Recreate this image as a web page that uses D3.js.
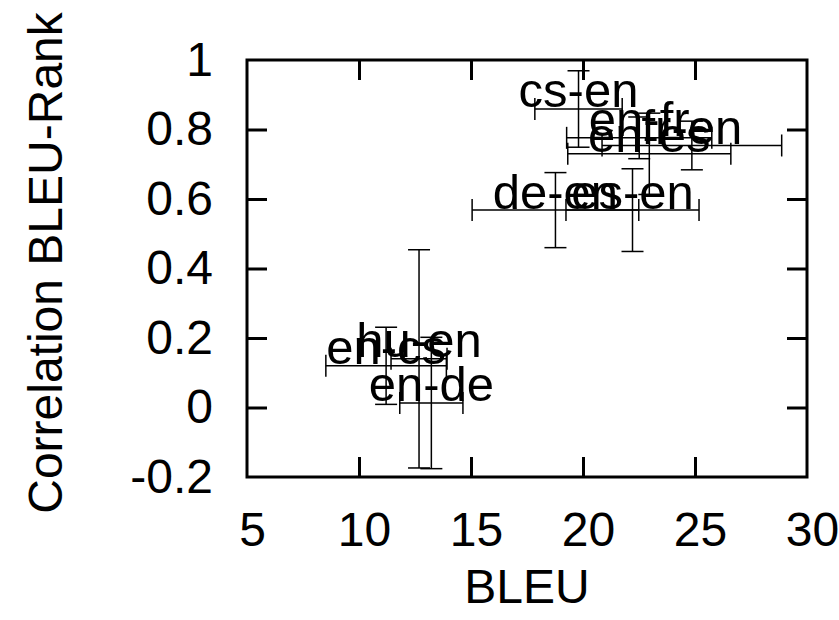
<!DOCTYPE html>
<html>
<head>
<meta charset="utf-8">
<script src="https://cdn.jsdelivr.net/npm/d3@7"></script>
<style>
  body { margin: 0; background: #fff; }
  svg { display: block; font-family: "Liberation Sans", Arial, sans-serif; }
</style>
</head>
<body>
<svg id="chart" width="839" height="620"></svg>
<script>
// language pairs and their values
var langPairs = ['cs-en', 'en-fr', 'fr-en', 'en-es', 'de-en', 'es-en', 'hu-en', 'en-cs', 'en-de'];
var bleu      = [19.8, 22.51, 24.86, 22.96, 18.77, 22.21, 12.68, 11.21, 13.23];
var bleuErr   = [1.95, 3.24, 4.01, 3.64, 3.72, 2.97, 1.25, 2.69, 1.41];
var corr      = [0.859, 0.776, 0.754, 0.730, 0.568, 0.568, 0.14, 0.12, 0.013];
var corrErr   = [0.11, 0.06, 0.07, 0.117, 0.108, 0.119, 0.314, 0.111, 0.189];

var xTicks = [5, 10, 15, 20, 25, 30];
var yTicks = [-0.2, 0, 0.2, 0.4, 0.6, 0.8, 1];

// plot box (window.top is taken, so no bare "top")
var box = { l: 247, r: 807, t: 60, b: 477 };

var x = d3.scaleLinear().domain([5, 30]).range([box.l, box.r]);
var y = d3.scaleLinear().domain([-0.2, 1]).range([box.b, box.t]);

var svg = d3.select('#chart');

var data = langPairs.map(function(name, i) {
    return { name: name, x: bleu[i], xe: bleuErr[i], y: corr[i], ye: corrErr[i] };
});

// plain hyphen for negatives, like gnuplot
var fmt = function(d) { return String(+d.toFixed(1)); };

var gx = svg.append('g')
    .attr('transform', 'translate(0,' + box.b + ')')
    .call(d3.axisBottom(x).tickValues(xTicks).tickFormat(fmt).tickSizeInner(-20).tickSizeOuter(0).tickPadding(35));
var gy = svg.append('g')
    .attr('transform', 'translate(' + box.l + ',0)')
    .call(d3.axisLeft(y).tickValues(yTicks).tickFormat(fmt).tickSizeInner(-20).tickSizeOuter(0).tickPadding(34));
var gt = svg.append('g')
    .attr('transform', 'translate(0,' + box.t + ')')
    .call(d3.axisTop(x).tickValues(xTicks.slice(1, -1)).tickFormat('').tickSizeInner(-20).tickSizeOuter(0));
var gr = svg.append('g')
    .attr('transform', 'translate(' + box.r + ',0)')
    .call(d3.axisRight(y).tickValues(yTicks.slice(1, -1)).tickFormat('').tickSizeInner(-20).tickSizeOuter(0));

[gx, gy, gt, gr].forEach(function(g) {
    g.attr('font-family', null).attr('font-size', 48);
    g.select('.domain').remove();
    g.selectAll('.tick line').attr('stroke', '#000').attr('stroke-width', 3);
    g.selectAll('.tick text').attr('fill', '#000');
});
gx.selectAll('.tick text').attr('dx', 5);
// ticks at the corners sit on the border
gx.selectAll('.tick line').filter(function(d) { return d === 5 || d === 30; }).remove();
gy.selectAll('.tick line').filter(function(d) { return d === -0.2 || d === 1; }).remove();

// error bars
var cap = 11;
var bars = svg.append('g').attr('stroke', '#000').attr('stroke-width', 1.5).attr('fill', 'none');
var eb = bars.selectAll('g').data(data).enter().append('g');

eb.append('line')
    .attr('x1', function(d) { return x(d.x - d.xe); })
    .attr('x2', function(d) { return x(d.x + d.xe); })
    .attr('y1', function(d) { return y(d.y); })
    .attr('y2', function(d) { return y(d.y); });
eb.append('line')
    .attr('x1', function(d) { return x(d.x); })
    .attr('x2', function(d) { return x(d.x); })
    .attr('y1', function(d) { return y(d.y - d.ye); })
    .attr('y2', function(d) { return y(d.y + d.ye); });
[-1, 1].forEach(function(s) {
    eb.append('line')
        .attr('x1', function(d) { return x(d.x + s * d.xe); })
        .attr('x2', function(d) { return x(d.x + s * d.xe); })
        .attr('y1', function(d) { return y(d.y) - cap; })
        .attr('y2', function(d) { return y(d.y) + cap; });
    eb.append('line')
        .attr('x1', function(d) { return x(d.x) - cap; })
        .attr('x2', function(d) { return x(d.x) + cap; })
        .attr('y1', function(d) { return y(d.y + s * d.ye); })
        .attr('y2', function(d) { return y(d.y + s * d.ye); });
});

// labels centred on the points
svg.append('g').selectAll('text').data(data).enter().append('text')
    .attr('x', function(d) { return x(d.x); })
    .attr('y', function(d) { return y(d.y) - 1.5; })
    .attr('text-anchor', 'middle')
    .attr('font-size', 49)
    .text(function(d) { return d.name; });

// border
svg.append('rect')
    .attr('x', box.l).attr('y', box.t)
    .attr('width', box.r - box.l).attr('height', box.b - box.t)
    .attr('fill', 'none').attr('stroke', '#000').attr('stroke-width', 3);

// axis titles
svg.append('text')
    .attr('x', (box.l + box.r) / 2).attr('y', 603)
    .attr('text-anchor', 'middle').attr('font-size', 48)
    .text('BLEU');
svg.append('text')
    .attr('transform', 'translate(62,263) rotate(-90)')
    .attr('text-anchor', 'middle').attr('font-size', 48)
    .text('Correlation BLEU-Rank');
</script>
</body>
</html>
